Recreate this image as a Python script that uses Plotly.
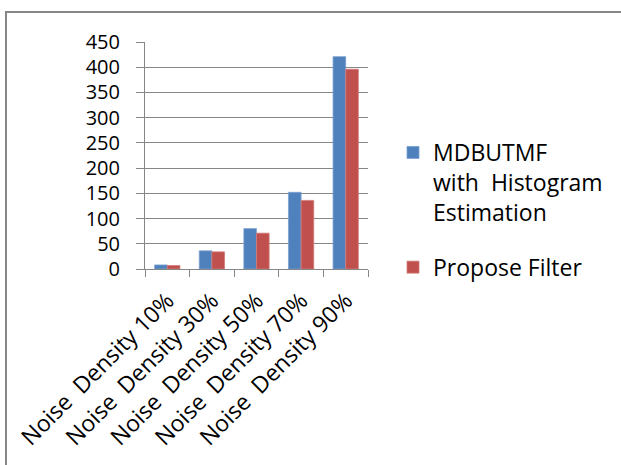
import plotly.graph_objects as go

categories = ["Noise\u00a0 Density 10%", "Noise\u00a0 Density 30%", "Noise\u00a0 Density 50%",
              "Noise\u00a0 Density 70%", "Noise\u00a0 Density 90%"]
mdbutmf = [8, 36, 80, 152, 421]
propose = [7, 34, 71, 136, 396]
series_names = ["MDBUTMF<br>with\u00a0 Histogram<br>Estimation", "Propose Filter"]
y_ticks = [0, 50, 100, 150, 200, 250, 300, 350, 400, 450]

W, H = 621, 465
L, R, T, B = 145, 253, 42, 196
pw, ph = W - L - R, H - T - B

def px_x(p):
    return (p - L) / pw

def px_y(p):
    return (H - B - p) / ph

FONT = "Open Sans"
GRID = "#868686"

fig = go.Figure()
fig.add_trace(go.Bar(x=categories, y=mdbutmf, name=series_names[0], legendgroup="a",
                     marker=dict(color="#4F81BD", line=dict(color="#7B9FCF", width=0.8))))
fig.add_trace(go.Bar(x=categories, y=propose, name=series_names[1], legendgroup="b",
                     marker=dict(color="#C0504D", line=dict(color="#D27B79", width=0.8))))

fig.update_layout(
    width=W, height=H,
    margin=dict(l=L, r=R, t=T, b=B, pad=0),
    paper_bgcolor="white", plot_bgcolor="white",
    barmode="group", bargap=0.433, bargroupgap=0,
    font=dict(family=FONT, size=21, color="black"),
    showlegend=True,
    legend=dict(x=px_x(393), y=px_y(131), xanchor="left", yanchor="top",
                font=dict(family=FONT, size=23, color="black"),
                traceorder="grouped", valign="top", tracegroupgap=22,
                bgcolor="rgba(0,0,0,0)"),
    xaxis=dict(showgrid=False, showline=True, linecolor=GRID, linewidth=1,
               ticks="outside", tickson="boundaries", ticklen=7, tickcolor=GRID,
               tickangle=-45, ticklabelstandoff=8, tickfont=dict(family=FONT, size=23)),
    yaxis=dict(range=[0, 450], tickvals=y_ticks, showgrid=True, gridcolor=GRID, gridwidth=1,
               showline=True, linecolor=GRID, linewidth=1, zeroline=False,
               ticks="outside", ticklen=8, tickcolor=GRID, ticklabelstandoff=12,
               tickfont=dict(family=FONT, size=20)),
    shapes=[dict(type="rect", xref="paper", yref="paper",
                 x0=px_x(6), x1=px_x(640), y0=px_y(12), y1=px_y(490),
                 line=dict(color=GRID, width=2), fillcolor="rgba(0,0,0,0)", layer="below")],
)

fig.write_html("out.html")
